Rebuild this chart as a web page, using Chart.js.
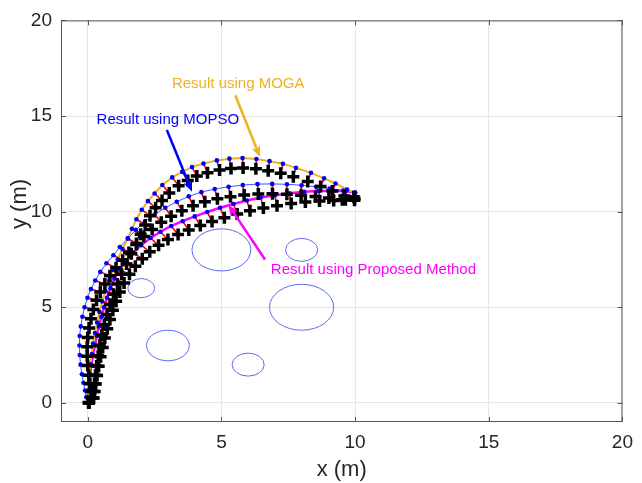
<!DOCTYPE html>
<html>
<head>
<meta charset="utf-8">
<title>Path comparison</title>
<script src="https://cdn.jsdelivr.net/npm/chart.js@4.4.1/dist/chart.umd.min.js"></script>
<style>
  html, body { margin: 0; padding: 0; background: #fff; }
  #wrap { width: 642px; height: 483px; }
</style>
</head>
<body>
<div id="wrap"><canvas id="chart" width="642" height="483"></canvas></div>
<script>
// axis ticks
const xTicks = [0, 5, 10, 15, 20];
const yTicks = [0, 5, 10, 15, 20];

// planned points [x, y] of each method and the tracked positions joined to them
const mogaPath = [
  [0, 0], [0.01, 0.3], [0.02, 0.65], [0.04, 1.05], [0.07, 1.5], [0.1, 2.0], [0.15, 2.55],
  [0.2, 3.1], [0.27, 3.65], [0.35, 4.2], [0.44, 4.75], [0.54, 5.3], [0.66, 5.85], [0.8, 6.4],
  [0.95, 6.95], [1.12, 7.5], [1.3, 8.05], [1.5, 8.6], [1.65, 9.1], [1.82, 9.6], [2.02, 10.1],
  [2.25, 10.55], [2.5, 10.95], [2.79, 11.39], [3.16, 11.79], [3.53, 12.08], [3.9, 12.33],
  [4.33, 12.52], [4.83, 12.68], [5.3, 12.77], [5.79, 12.8], [6.31, 12.75], [6.8, 12.64],
  [7.3, 12.5], [7.79, 12.29], [8.35, 12.03], [8.84, 11.74], [9.27, 11.47], [9.7, 11.16], [10, 10.95]
];
const mogaTrack = [
  [0.04, 0], [0.2, 0.26], [0.22, 0.6], [0.25, 1.0], [0.29, 1.44], [0.33, 1.93], [0.39, 2.47],
  [0.45, 3.01], [0.53, 3.55], [0.62, 4.09], [0.72, 4.62], [0.83, 5.15], [0.96, 5.68], [1.11, 6.21],
  [1.27, 6.73], [1.45, 7.26], [1.63, 7.8], [1.83, 8.33], [1.98, 8.82], [2.15, 9.3], [2.33, 9.78],
  [2.54, 10.2], [2.78, 10.58], [3.05, 10.98], [3.4, 11.36], [3.74, 11.63], [4.08, 11.86],
  [4.48, 12.03], [4.93, 12.18], [5.36, 12.26], [5.81, 12.28], [6.29, 12.24], [6.75, 12.14],
  [7.22, 12.01], [7.69, 11.82], [8.23, 11.58], [8.71, 11.32], [9.15, 11.08], [9.6, 10.82], [9.95, 10.78]
];

const mopsoPath = [
  [0, 0], [-0.05, 0.3], [-0.1, 0.65], [-0.16, 1.05], [-0.22, 1.5], [-0.27, 2.0], [-0.3, 2.5],
  [-0.31, 3.0], [-0.3, 3.5], [-0.26, 4.0], [-0.2, 4.5], [-0.12, 5.0], [-0.01, 5.5], [0.12, 5.95],
  [0.28, 6.4], [0.47, 6.85], [0.7, 7.3], [0.96, 7.72], [1.2, 8.15], [1.5, 8.6], [1.8, 9.05],
  [2.13, 9.45], [2.5, 9.85], [2.9, 10.2], [3.33, 10.52], [3.78, 10.8], [4.25, 11.02], [4.75, 11.18],
  [5.27, 11.3], [5.8, 11.39], [6.35, 11.44], [6.9, 11.45], [7.45, 11.43], [8.0, 11.38],
  [8.55, 11.3], [9.05, 11.21], [9.55, 11.1], [10, 11.0]
];
const mopsoTrack = [
  [0.03, 0.02], [0.15, 0.27], [0.12, 0.6], [0.08, 1.0], [0.04, 1.45], [0.0, 1.95], [-0.02, 2.44],
  [-0.02, 2.93], [0.0, 3.42], [0.05, 3.91], [0.12, 4.4], [0.21, 4.88], [0.33, 5.36], [0.47, 5.8],
  [0.64, 6.22], [0.83, 6.65], [1.06, 7.07], [1.31, 7.46], [1.54, 7.86], [1.82, 8.28], [2.1, 8.7],
  [2.41, 9.07], [2.75, 9.44], [3.12, 9.76], [3.52, 10.05], [3.94, 10.31], [4.38, 10.52], [4.85, 10.67],
  [5.34, 10.78], [5.85, 10.87], [6.38, 10.92], [6.91, 10.93], [7.45, 10.91], [7.98, 10.86],
  [8.52, 10.79], [9.02, 10.71], [9.52, 10.62], [9.98, 10.6]
];

const proposedPath = [
  [0, 0], [0.0, 0.3], [0.02, 0.65], [0.05, 1.05], [0.09, 1.5], [0.14, 2.0], [0.2, 2.5], [0.27, 3.0],
  [0.34, 3.5], [0.42, 4.0], [0.51, 4.5], [0.61, 5.0], [0.72, 5.5], [0.85, 6.0], [1.0, 6.5],
  [1.2, 6.98], [1.43, 7.43], [1.7, 7.85], [2.0, 8.25], [2.35, 8.62], [2.72, 8.95], [3.12, 9.25],
  [3.55, 9.5], [4.0, 9.75], [4.47, 9.98], [4.95, 10.2], [5.45, 10.4], [5.95, 10.58], [6.47, 10.74],
  [7.0, 10.86], [7.55, 10.96], [8.1, 11.04], [8.65, 11.08], [9.2, 11.09], [9.65, 11.07], [10, 11.0]
];
const proposedTrack = [
  [0.05, 0.0], [0.22, 0.26], [0.26, 0.6], [0.3, 0.99], [0.35, 1.43], [0.41, 1.92], [0.48, 2.41],
  [0.56, 2.9], [0.64, 3.39], [0.73, 3.88], [0.83, 4.36], [0.94, 4.84], [1.06, 5.32], [1.2, 5.8],
  [1.36, 6.27], [1.56, 6.72], [1.78, 7.14], [2.04, 7.53], [2.32, 7.9], [2.65, 8.24], [3.0, 8.54],
  [3.38, 8.81], [3.78, 9.04], [4.21, 9.27], [4.65, 9.48], [5.11, 9.68], [5.59, 9.87], [6.07, 10.04],
  [6.57, 10.19], [7.08, 10.31], [7.61, 10.42], [8.14, 10.5], [8.67, 10.55], [9.2, 10.58],
  [9.64, 10.62], [9.98, 10.7]
];

// circular obstacles: centre and radius
const obstacleX = [5, 8, 2, 8, 3, 6];
const obstacleY = [8, 8, 6, 5, 3, 2];
const obstacleR = [1.1, 0.6, 0.5, 1.2, 0.8, 0.6];

const ORANGE = '#EDB120';
const BLUE = '#0000FF';
const MAGENTA = '#FF00FF';
const INK = '#262626';
const FONT = '"Liberation Sans", Arial, Helvetica, sans-serif';

// text callouts with arrows, anchored in axis units
const callouts = [
  { text: 'Result using MOGA', color: ORANGE, at: [3.15, 16.67], from: [5.52, 16.09], to: [6.44, 12.86] },
  { text: 'Result using MOPSO', color: BLUE, at: [0.33, 14.79], from: [2.96, 14.27], to: [3.9, 11.04] },
  { text: 'Result using Proposed Method', color: MAGENTA, at: [6.85, 6.98], from: [6.63, 7.5], to: [5.26, 10.36] }
];

const toPoints = pts => pts.map(([x, y]) => ({ x, y }));

// pairs of path point and tracked point, broken by gaps
function links(path, track) {
  const out = [];
  path.forEach(([x, y], i) => {
    out.push({ x, y }, { x: track[i][0], y: track[i][1] }, { x, y: null });
  });
  return out;
}

function drawArrow(ctx, x0, y0, x1, y1, color) {
  const a = Math.atan2(y1 - y0, x1 - x0);
  const len = 11, half = 4.5, back = 8;
  const c = Math.cos(a), s = Math.sin(a);
  const bx = x1 - back * c, by = y1 - back * s;
  ctx.strokeStyle = color;
  ctx.lineWidth = 2.5;
  ctx.beginPath();
  ctx.moveTo(x0, y0);
  ctx.lineTo(bx, by);
  ctx.stroke();
  ctx.fillStyle = color;
  ctx.beginPath();
  ctx.moveTo(x1, y1);
  ctx.lineTo(x1 - len * c + half * s, y1 - len * s - half * c);
  ctx.lineTo(bx, by);
  ctx.lineTo(x1 - len * c - half * s, y1 - len * s + half * c);
  ctx.closePath();
  ctx.fill();
}

const decorations = {
  id: 'decorations',
  beforeDatasetsDraw(chart) {
    const { ctx, scales: { x, y } } = chart;
    ctx.save();
    ctx.strokeStyle = '#5b6cf2';
    ctx.lineWidth = 1;
    obstacleX.forEach((cx, i) => {
      const px = x.getPixelForValue(cx), py = y.getPixelForValue(obstacleY[i]);
      const rx = Math.abs(x.getPixelForValue(cx + obstacleR[i]) - px);
      const ry = Math.abs(y.getPixelForValue(obstacleY[i] + obstacleR[i]) - py);
      ctx.beginPath();
      ctx.ellipse(px, py, rx, ry, 0, 0, Math.PI * 2);
      ctx.stroke();
    });
    ctx.restore();
  },
  afterDatasetsDraw(chart) {
    const { ctx, chartArea: a, scales: { x, y } } = chart;
    ctx.save();
    // axes box with inward ticks
    ctx.strokeStyle = '#555555';
    ctx.lineWidth = 1;
    ctx.strokeRect(a.left + 0.5, a.top + 0.5, a.right - a.left - 1, a.bottom - a.top - 1);
    ctx.beginPath();
    xTicks.forEach(v => {
      const px = Math.round(x.getPixelForValue(v)) + 0.5;
      ctx.moveTo(px, a.bottom); ctx.lineTo(px, a.bottom - 5);
      ctx.moveTo(px, a.top); ctx.lineTo(px, a.top + 5);
    });
    yTicks.forEach(v => {
      const py = Math.round(y.getPixelForValue(v)) + 0.5;
      ctx.moveTo(a.left, py); ctx.lineTo(a.left + 5, py);
      ctx.moveTo(a.right, py); ctx.lineTo(a.right - 5, py);
    });
    ctx.stroke();

    // y axis label, sitting a little above the middle of the axis
    ctx.save();
    ctx.translate(20, 204);
    ctx.rotate(-Math.PI / 2);
    ctx.font = '22px ' + FONT;
    ctx.fillStyle = INK;
    ctx.textAlign = 'center';
    ctx.textBaseline = 'middle';
    ctx.fillText('y (m)', 0, 0);
    ctx.restore();

    ctx.font = '15px ' + FONT;
    ctx.textAlign = 'left';
    ctx.textBaseline = 'middle';
    callouts.forEach(c => {
      ctx.fillStyle = c.color;
      ctx.fillText(c.text, x.getPixelForValue(c.at[0]), y.getPixelForValue(c.at[1]));
      drawArrow(ctx,
        x.getPixelForValue(c.from[0]), y.getPixelForValue(c.from[1]),
        x.getPixelForValue(c.to[0]), y.getPixelForValue(c.to[1]), c.color);
    });
    ctx.restore();
  }
};

const lineSet = (pts, color, width, order) => ({
  data: toPoints(pts), showLine: true, borderColor: color, borderWidth: width,
  pointRadius: 0, order
});
const dotSet = (pts, order) => ({
  data: toPoints(pts), showLine: false, pointRadius: 2.3, pointBackgroundColor: BLUE,
  pointBorderWidth: 0, order
});
const linkSet = (path, track, order) => ({
  data: links(path, track), showLine: true, spanGaps: false, borderColor: '#FF0000',
  borderWidth: 1.6, pointRadius: 0, order
});
const crossSet = (pts, order) => ({
  data: toPoints(pts), showLine: false, pointStyle: 'cross', pointRadius: 6,
  pointBorderColor: '#000000', pointBorderWidth: 3.5, order
});

new Chart(document.getElementById('chart'), {
  type: 'scatter',
  data: {
    datasets: [
      crossSet(mogaTrack, 1), crossSet(mopsoTrack, 1), crossSet(proposedTrack, 1),
      dotSet(mogaPath, 2), dotSet(mopsoPath, 2), dotSet(proposedPath, 2),
      linkSet(mogaPath, mogaTrack, 3), linkSet(mopsoPath, mopsoTrack, 3), linkSet(proposedPath, proposedTrack, 3),
      lineSet(mogaPath, ORANGE, 2, 4), lineSet(mopsoPath, '#3f52ff', 1, 4), lineSet(proposedPath, MAGENTA, 2.5, 4)
    ]
  },
  options: {
    responsive: false,
    animation: false,
    layout: { padding: { left: 0, right: 14, top: 17, bottom: 0 } },
    plugins: { legend: { display: false }, tooltip: { enabled: false } },
    scales: {
      x: {
        type: 'linear', min: -1, max: 20,
        afterBuildTicks: s => { s.ticks = xTicks.map(v => ({ value: v })); },
        afterFit: s => { s.height = 61; },
        grid: { color: '#e6e6e6', drawTicks: false },
        border: { display: false },
        ticks: { padding: 9, color: INK, font: { family: FONT, size: 19 } },
        title: { display: true, text: 'x (m)', color: INK, padding: 0,
                 font: { family: FONT, size: 22 } }
      },
      y: {
        type: 'linear', min: -1, max: 20,
        afterBuildTicks: s => { s.ticks = yTicks.map(v => ({ value: v })); },
        afterFit: s => { s.width = 61; },
        grid: { color: '#e6e6e6', drawTicks: false },
        border: { display: false },
        ticks: { padding: 9, color: INK, font: { family: FONT, size: 19 } },
        title: { display: false }
      }
    }
  },
  plugins: [decorations]
});
</script>
</body>
</html>
